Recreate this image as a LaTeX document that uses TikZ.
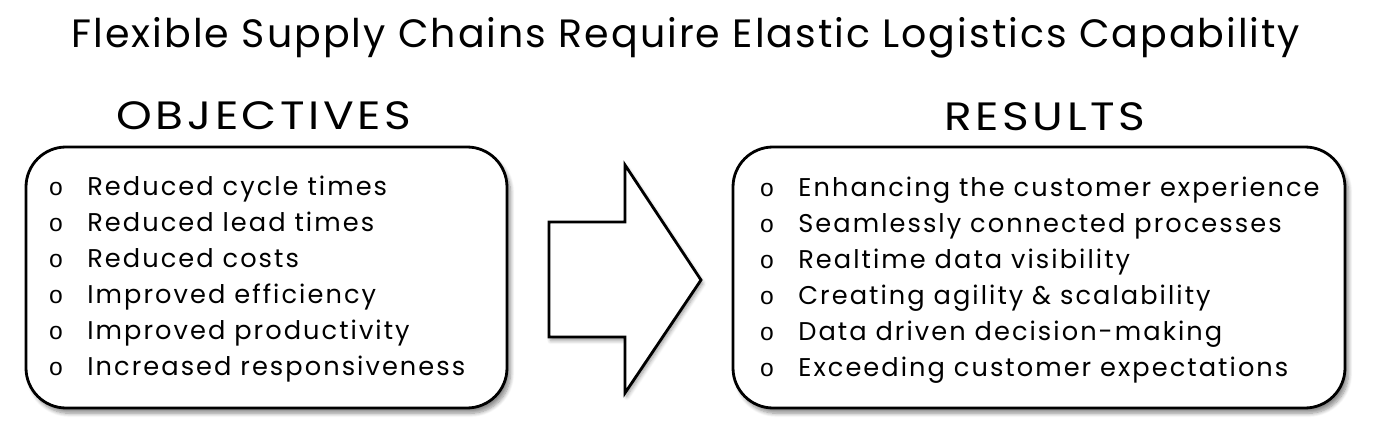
\documentclass[tikz,border=0pt]{standalone}
\usepackage{fontspec}
\setmainfont{Poppins}
\newfontfamily\titlefont[LetterSpace=5]{Poppins}
\newfontfamily\headfont[FakeStretch=1.15, LetterSpace=9]{Poppins}
\newfontfamily\itemfont[LetterSpace=8]{Poppins}
\newfontfamily\bulletfont{Liberation Mono}
\usepackage{tikz}
\usetikzlibrary{positioning, shadows.blur}
\definecolor{inkblack}{RGB}{0, 0, 0}

\tikzset{
    titletext/.style={font=\titlefont\fontsize{22.5}{27}\selectfont, anchor=base},
    headtext/.style={font=\headfont\fontsize{22.5}{27}\selectfont, anchor=base},
    itemtext/.style={font=\itemfont\fontsize{14.6}{18}\selectfont, anchor=base west, inner sep=0pt},
    bullettext/.style={font=\bulletfont\fontsize{14}{18}\selectfont, anchor=base, inner sep=0pt},
    listbox/.style={draw=inkblack, line width=1.6pt, fill=white, rounded corners=0.8cm,
        blur shadow={shadow xshift=2pt, shadow yshift=-3pt, shadow opacity=45, shadow blur steps=8}},
    bigarrow/.style={draw=inkblack, line width=1.6pt, fill=white, line join=miter,
        blur shadow={shadow xshift=1pt, shadow yshift=-2pt, shadow opacity=40, shadow blur steps=6}}
}

\begin{document}
\begin{tikzpicture}[x=0.02cm, y=-0.02cm]
\useasboundingbox (0,0) rectangle (1373,428);

% Title
\node[titletext] (title) at (686,48) {Flexible Supply Chains Require Elastic Logistics Capability};

% Headings
\node[headtext] (objhead) at (264,130) {OBJECTIVES};
\node[headtext] (reshead) at (1045,131) {RESULTS};

% Boxes
\draw[listbox] (26,147) rectangle (507,408);
\draw[listbox] (733,147) rectangle (1345,408);

% Arrow between the boxes
\draw[bigarrow] (549,222) -- (625,222) -- (625,165) -- (701,280)
    -- (625,393) -- (625,337) -- (549,337) -- cycle;

% Objectives list
\foreach \t [count=\i] in {Reduced cycle times, Reduced lead times, Reduced costs,
    Improved efficiency, Improved productivity, Increased responsiveness} {
    \node[bullettext] (objbul\i) at (56,160+36*\i) {o};
    \node[itemtext] (objitem\i) at (87,160+36*\i) {\t};
}

% Results list
\foreach \t [count=\i] in {Enhancing the customer experience, Seamlessly connected processes,
    Realtime data visibility, Creating agility \& scalability, Data driven decision-making,
    Exceeding customer expectations} {
    \node[bullettext] (resbul\i) at (767,161+36*\i) {o};
    \node[itemtext] (resitem\i) at (798,161+36*\i) {\t};
}
\end{tikzpicture}
\end{document}
